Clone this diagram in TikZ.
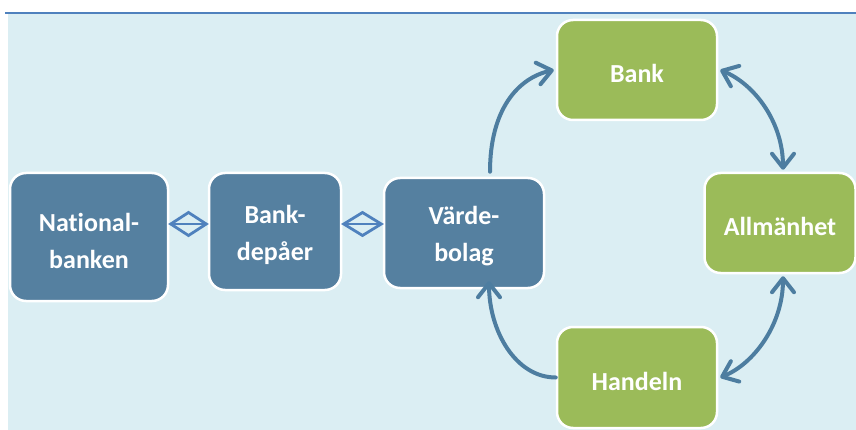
\documentclass[tikz,border=0pt]{standalone}
\usepackage{fontspec}
\setmainfont{Carlito}[Ligatures={NoCommon}]
\usetikzlibrary{arrows.meta,calc}
\definecolor{bgc}{HTML}{DBEEF3}
\definecolor{rulec}{HTML}{4F81BD}
\definecolor{boxblue}{HTML}{5580A0}
\definecolor{boxgreen}{HTML}{9BBB59}
\definecolor{arrc}{HTML}{4D7DA0}
\definecolor{diamc}{HTML}{4F81BD}
\begin{document}
\begin{tikzpicture}[x=1pt,y=-1pt,
  box/.style={draw=white,line width=2.5pt,rounded corners=16pt,inner sep=0pt},
  bluebox/.style={box,fill=boxblue},
  greenbox/.style={box,fill=boxgreen},
  txt/.style={text=white,align=center,inner sep=0pt,yshift=-3.5pt,
    font=\fontsize{26}{37}\selectfont\bfseries},
  flow/.style={draw=arrc,line width=4pt,line cap=round,
    arrows={-Straight Barb[length=14pt,width=22pt,round]}},
  biflow/.style={flow,arrows={Straight Barb[length=14pt,width=22pt,round]-Straight Barb[length=14pt,width=22pt,round]}},
  diam/.style={draw=diamc,line width=2.8pt,line join=miter}]
\useasboundingbox (0,0) rectangle (856,430);
% backdrop and top rule
\fill[bgc] (8,14) rectangle (856,430);
\draw[rulec,line width=2pt] (5,13) -- (856,13);

% boxes with their captions
\node[bluebox,minimum width=158pt,minimum height=128pt,
  label={[txt]center:National-\\banken}] (na) at (89,237) {};
\node[bluebox,minimum width=132pt,minimum height=117pt,
  label={[txt]center:Bank-\\depåer}] (bd) at (275,231.5) {};
\node[bluebox,minimum width=160pt,minimum height=110pt,
  label={[txt]center:Värde-\\bolag}] (vb) at (464,233) {};
\node[greenbox,minimum width=160pt,minimum height=100pt,
  label={[txt]center:Bank}] (bank) at (637,70) {};
\node[greenbox,minimum width=151pt,minimum height=100pt,
  label={[txt]center:Allmänhet}] (allm) at (780,223) {};
\node[greenbox,minimum width=160pt,minimum height=101pt,
  label={[txt]center:Handeln}] (han) at (637,377.5) {};

% two-way links between the blue boxes
\coordinate (lvl) at (0,224);
\foreach \a/\b in {na/bd,bd/vb}{
  \coordinate (l) at ($(\a.east |- lvl)+(1.5,0)$);
  \coordinate (r) at ($(\b.west |- lvl)+(-1.5,0)$);
  \draw[diam] (l) -- ($(l)!0.5!(r)+(0,-11.5)$) -- (r) -- ($(l)!0.5!(r)+(0,11.5)$) -- cycle;
  \draw[diam] (l) -- (r);
}

% flows around the green boxes
\draw[flow] ($(vb.north)+(26,-5)$) .. controls +(0,-62) and +(-36,8) .. ($(bank.west)+(-2,0)$);
\draw[biflow] ($(bank.east)+(2,0)$) .. controls +(34,14) and +(0,-48) .. ($(allm.north)+(3,-2)$);
\draw[biflow] ($(han.east)+(2,0)$) .. controls +(34,-14) and +(0,48) .. ($(allm.south)+(3,2)$);
\draw[flow] ($(han.west)+(0,0)$) .. controls +(-40,0) and +(0,50) .. ($(vb.south)+(25,-8)$);
\end{tikzpicture}
\end{document}
